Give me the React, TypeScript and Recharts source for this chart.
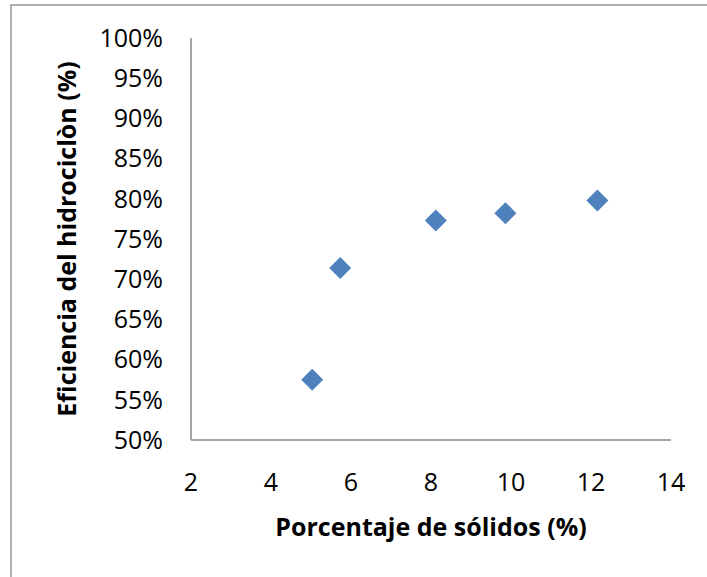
import React from "react";
import { ScatterChart, Scatter, XAxis, YAxis, Label } from "recharts";

const solidsPct = [5.03, 5.73, 8.12, 9.86, 12.16];
const efficiencyPct = [57.5, 71.4, 77.3, 78.2, 79.8];
const xTicks = [2, 4, 6, 8, 10, 12, 14];
const yTicks = [50, 55, 60, 65, 70, 75, 80, 85, 90, 95, 100];
const xTitle = "Porcentaje de sólidos (%)";
const yTitle = "Eficiencia del hidrociclòn (%)";

const data = solidsPct.map((x, i) => ({ x, y: efficiencyPct[i] }));

const FONT = "'Open Sans', 'Liberation Sans', sans-serif";
const AXIS_COLOR = "#898989";
const MARKER = "#4F81BD";

const Diamond = (props: any) => {
  const { cx, cy } = props;
  const r = 11;
  return (
    <polygon
      points={`${cx},${cy - r} ${cx + r},${cy} ${cx},${cy + r} ${cx - r},${cy}`}
      fill={MARKER}
    />
  );
};

export default function App() {
  return (
    <div style={{ position: "absolute", left: 0, top: 0, width: 707, height: 577, background: "#fff", overflow: "hidden" }}>
      <div
        style={{
          position: "absolute",
          left: 10,
          top: 4,
          width: 720,
          height: 600,
          borderLeft: "2px solid #b0b0b0",
          borderTop: "2px solid #b0b0b0",
        }}
      />
      <div style={{ position: "absolute", left: 0, top: 0 }}>
        <ScatterChart width={707} height={577} margin={{ top: 38, right: 36, bottom: 0, left: 0 }}>
          <XAxis
            type="number"
            dataKey="x"
            domain={[2, 14]}
            ticks={xTicks}
            height={137}
            axisLine={{ stroke: AXIS_COLOR, strokeWidth: 1.5 }}
            tickLine={false}
            tickSize={0}
            tickMargin={33}
            tick={{ fill: "#000", fontSize: 25, fontFamily: FONT }}
            interval={0}
          >
            <Label
              content={(p: any) => {
                const vb = p.viewBox;
                return (
                  <text
                    x={vb.x + vb.width / 2}
                    y={vb.y + 96}
                    textAnchor="middle"
                    fontFamily={FONT}
                    fontWeight="bold"
                    fontSize={25}
                    fill="#000"
                  >
                    {xTitle}
                  </text>
                );
              }}
            />
          </XAxis>
          <YAxis
            type="number"
            dataKey="y"
            domain={[50, 100]}
            ticks={yTicks}
            width={191}
            axisLine={{ stroke: AXIS_COLOR, strokeWidth: 1.5 }}
            tickLine={false}
            tickSize={0}
            tickMargin={28}
            tickFormatter={(v: number) => `${v}%`}
            tick={{ fill: "#000", fontSize: 25, fontFamily: FONT }}
            interval={0}
          >
            <Label
              content={(p: any) => {
                const vb = p.viewBox;
                const cx = 76;
                const cy = vb.y + vb.height / 2;
                return (
                  <text
                    x={cx}
                    y={cy}
                    transform={`rotate(-90, ${cx}, ${cy})`}
                    textAnchor="middle"
                    fontFamily={FONT}
                    fontWeight="bold"
                    fontSize={25}
                    fill="#000"
                  >
                    {yTitle}
                  </text>
                );
              }}
            />
          </YAxis>
          <Scatter data={data} shape={<Diamond />} isAnimationActive={false} />
        </ScatterChart>
      </div>
    </div>
  );
}
